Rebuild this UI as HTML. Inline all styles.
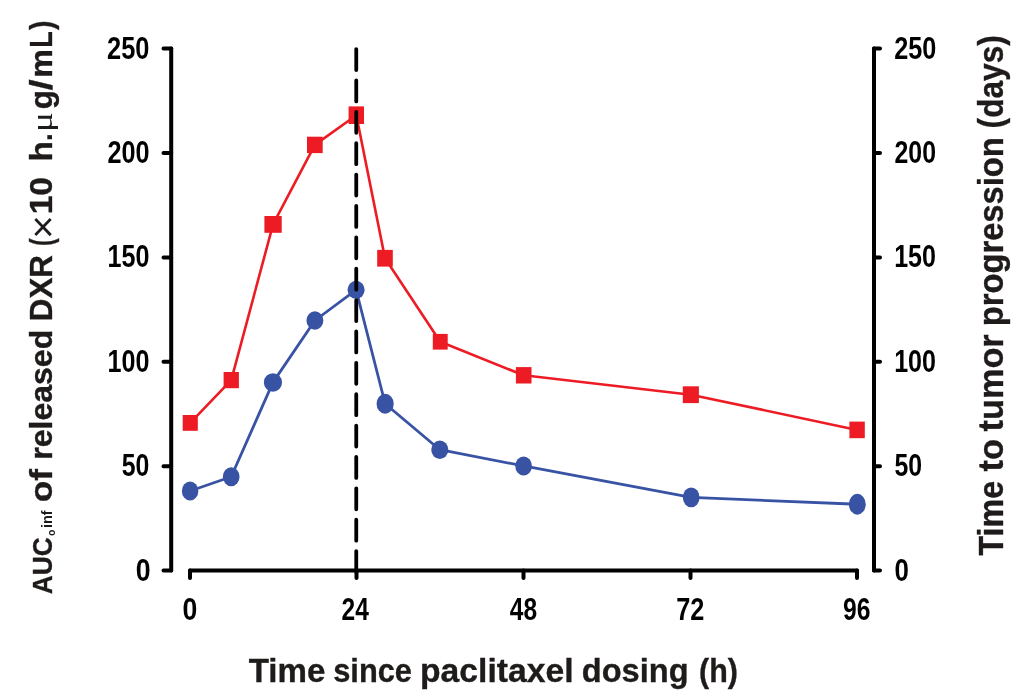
<!DOCTYPE html>
<html>
<head>
<meta charset="utf-8">
<style>
html,body{margin:0;padding:0;background:#fff;width:1024px;height:698px;overflow:hidden;}
svg{display:block;}
</style>
</head>
<body>
<svg width="1024" height="698" viewBox="0 0 1024 698">
<rect width="1024" height="698" fill="#fff"/>
<g stroke="#000" stroke-width="4" stroke-linecap="round" fill="none">
  <path d="M171.2,48.5 V570.6"/>
  <path d="M163.5,48.5 H171.2 M163.5,153 H171.2 M163.5,257.4 H171.2 M163.5,361.8 H171.2 M163.5,466.2 H171.2 M163.5,570.6 H171.2"/>
  <path d="M874,48.5 V570.6"/>
  <path d="M874,48.5 H880 M874,153 H880 M874,257.4 H880 M874,361.8 H880 M874,466.2 H880 M874,570.6 H880"/>
  <path d="M190,570.6 H857"/>
  <path d="M190,570.6 V578 M356.5,570.6 V578 M523.5,570.6 V578 M690.5,570.6 V578 M857,570.6 V578"/>
</g>
<polyline fill="none" stroke="#ED1C24" stroke-width="2.6" stroke-linejoin="round"
  points="190.25,422.90 231.25,380.10 273.05,224.40 314.85,144.90 356.30,115.20 385.00,258.25 440.25,341.75 523.70,375.30 690.85,394.70 857.10,429.90"/>
<g fill="#ED1C24">
  <rect x="182.70" y="415.00" width="15.10" height="15.80"/>
  <rect x="223.60" y="372.00" width="15.30" height="16.20"/>
  <rect x="264.40" y="216.00" width="17.30" height="16.80"/>
  <rect x="307.00" y="136.70" width="15.70" height="16.40"/>
  <rect x="348.60" y="106.40" width="15.40" height="17.60"/>
  <rect x="377.20" y="249.90" width="15.60" height="16.70"/>
  <rect x="432.80" y="333.90" width="14.90" height="15.70"/>
  <rect x="515.90" y="367.10" width="15.60" height="16.40"/>
  <rect x="682.80" y="386.30" width="16.10" height="16.80"/>
  <rect x="849.40" y="421.60" width="15.40" height="16.60"/>
</g>
<polyline fill="none" stroke="#3953A4" stroke-width="2.8" stroke-linejoin="round"
  points="190.10,490.95 231.20,476.70 272.95,382.40 314.90,320.50 356.10,289.80 385.15,403.75 439.80,449.70 523.60,465.95 691.20,497.40 857.30,504.25"/>
<g fill="#3953A4">
  <ellipse cx="190.10" cy="490.95" rx="8.25" ry="9.50"/>
  <ellipse cx="231.20" cy="476.70" rx="8.35" ry="9.45"/>
  <ellipse cx="272.95" cy="382.40" rx="9.10" ry="9.25"/>
  <ellipse cx="314.90" cy="320.50" rx="8.45" ry="9.25"/>
  <ellipse cx="356.10" cy="289.80" rx="8.55" ry="8.95"/>
  <ellipse cx="385.15" cy="403.75" rx="8.60" ry="10.00"/>
  <ellipse cx="439.80" cy="449.70" rx="8.55" ry="9.25"/>
  <ellipse cx="523.60" cy="465.95" rx="8.35" ry="9.50"/>
  <ellipse cx="691.20" cy="497.40" rx="8.35" ry="9.95"/>
  <ellipse cx="857.30" cy="504.25" rx="8.45" ry="10.40"/>
</g>
<path d="M356.25,49.1 V578" stroke="#000" stroke-width="3.8" stroke-linecap="round" stroke-dasharray="20.9 10.475" fill="none"/>

<g opacity="0.999">
<text transform="translate(107.07,58.50) scale(0.8260,1)" font-size="30.8" font-weight="bold" font-family="Liberation Sans" fill="#000" >250</text>
<text transform="translate(894.18,58.50) scale(0.8200,1)" font-size="30.8" font-weight="bold" font-family="Liberation Sans" fill="#000" >250</text>
<text transform="translate(107.38,163.00) scale(0.8200,1)" font-size="30.8" font-weight="bold" font-family="Liberation Sans" fill="#000" >200</text>
<text transform="translate(894.49,163.00) scale(0.8080,1)" font-size="30.8" font-weight="bold" font-family="Liberation Sans" fill="#000" >200</text>
<text transform="translate(107.47,267.40) scale(0.8163,1)" font-size="30.8" font-weight="bold" font-family="Liberation Sans" fill="#000" >150</text>
<text transform="translate(894.17,267.40) scale(0.8143,1)" font-size="30.8" font-weight="bold" font-family="Liberation Sans" fill="#000" >150</text>
<text transform="translate(107.47,371.80) scale(0.8163,1)" font-size="30.8" font-weight="bold" font-family="Liberation Sans" fill="#000" >100</text>
<text transform="translate(894.17,371.80) scale(0.8143,1)" font-size="30.8" font-weight="bold" font-family="Liberation Sans" fill="#000" >100</text>
<text transform="translate(121.69,476.20) scale(0.8061,1)" font-size="30.8" font-weight="bold" font-family="Liberation Sans" fill="#000" >50</text>
<text transform="translate(894.49,476.20) scale(0.8061,1)" font-size="30.8" font-weight="bold" font-family="Liberation Sans" fill="#000" >50</text>
<text transform="translate(135.63,580.60) scale(0.8667,1)" font-size="30.8" font-weight="bold" font-family="Liberation Sans" fill="#000" >0</text>
<text transform="translate(894.46,580.60) scale(0.8400,1)" font-size="30.8" font-weight="bold" font-family="Liberation Sans" fill="#000" >0</text>
<text transform="translate(182.46,620.00) scale(0.8375,1)" font-size="31.8" font-weight="bold" font-family="Liberation Sans" fill="#000" >0</text>
<text transform="translate(341.53,620.00) scale(0.7714,1)" font-size="31.8" font-weight="bold" font-family="Liberation Sans" fill="#000" >24</text>
<text transform="translate(509.80,620.00) scale(0.7714,1)" font-size="31.8" font-weight="bold" font-family="Liberation Sans" fill="#000" >48</text>
<text transform="translate(676.21,620.00) scale(0.7941,1)" font-size="31.8" font-weight="bold" font-family="Liberation Sans" fill="#000" >72</text>
<text transform="translate(842.92,620.00) scale(0.7765,1)" font-size="31.8" font-weight="bold" font-family="Liberation Sans" fill="#000" >96</text>
<text transform="translate(248.70,681.70) scale(0.9947,1)" font-size="33.3" font-weight="bold" font-family="Liberation Sans" fill="#1e1b1a" stroke="#1e1b1a" stroke-width="0.35">Time</text>
<text transform="translate(333.17,681.70) scale(0.9265,1)" font-size="33.3" font-weight="bold" font-family="Liberation Sans" fill="#1e1b1a" stroke="#1e1b1a" stroke-width="0.35">since</text>
<text transform="translate(419.98,681.70) scale(1.0122,1)" font-size="33.3" font-weight="bold" font-family="Liberation Sans" fill="#1e1b1a" stroke="#1e1b1a" stroke-width="0.35">paclitaxel</text>
<text transform="translate(581.82,681.70) scale(0.9783,1)" font-size="33.3" font-weight="bold" font-family="Liberation Sans" fill="#1e1b1a" stroke="#1e1b1a" stroke-width="0.35">dosing</text>
<text transform="translate(699.09,681.70) scale(0.9150,1)" font-size="33.3" font-weight="bold" font-family="Liberation Sans" fill="#1e1b1a" stroke="#1e1b1a" stroke-width="0.35">(h)</text>
<text transform="translate(52.40,594.26) rotate(-90) scale(0.9621,1)" font-size="27.4" font-weight="bold" font-family="Liberation Sans" fill="#1e1b1a" stroke="#1e1b1a" stroke-width="0.35">AUC</text>
<text transform="translate(52.40,502.20) rotate(-90) scale(1.1033,1)" font-size="32" font-weight="bold" font-family="Liberation Sans" fill="#1e1b1a" stroke="#1e1b1a" stroke-width="0.35">of</text>
<text transform="translate(52.40,459.70) rotate(-90) scale(1.0008,1)" font-size="32" font-weight="bold" font-family="Liberation Sans" fill="#1e1b1a" stroke="#1e1b1a" stroke-width="0.35">released</text>
<text transform="translate(52.40,321.26) rotate(-90) scale(0.9815,1)" font-size="32" font-weight="bold" font-family="Liberation Sans" fill="#1e1b1a" stroke="#1e1b1a" stroke-width="0.35">DXR</text>
<text transform="translate(52.40,246.01) rotate(-90) scale(0.7100,1)" font-size="32" font-weight="bold" font-family="Liberation Sans" fill="#1e1b1a" stroke="#1e1b1a" stroke-width="0.35">(</text>
<text transform="translate(52.40,214.30) rotate(-90) scale(1.0485,1)" font-size="32" font-weight="bold" font-family="Liberation Sans" fill="#1e1b1a" stroke="#1e1b1a" stroke-width="0.35">10</text>
<text transform="translate(52.40,161.38) rotate(-90) scale(1.0375,1)" font-size="32" font-weight="bold" font-family="Liberation Sans" fill="#1e1b1a" stroke="#1e1b1a" stroke-width="0.35">h</text>
<text transform="translate(52.40,109.28) rotate(-90) scale(0.9765,1)" font-size="32" font-weight="bold" font-family="Liberation Sans" fill="#1e1b1a" stroke="#1e1b1a" stroke-width="0.35">g</text>
<text transform="translate(52.40,90.50) rotate(-90) scale(1.2556,1)" font-size="32" font-weight="bold" font-family="Liberation Sans" fill="#1e1b1a" stroke="#1e1b1a" stroke-width="0.35">/</text>
<text transform="translate(52.40,77.72) rotate(-90) scale(1.0080,1)" font-size="32" font-weight="bold" font-family="Liberation Sans" fill="#1e1b1a" stroke="#1e1b1a" stroke-width="0.35">m</text>
<text transform="translate(52.40,47.69) rotate(-90) scale(0.8471,1)" font-size="32" font-weight="bold" font-family="Liberation Sans" fill="#1e1b1a" stroke="#1e1b1a" stroke-width="0.35">L</text>
<text transform="translate(52.40,29.90) rotate(-90) scale(0.8889,1)" font-size="32" font-weight="bold" font-family="Liberation Sans" fill="#1e1b1a" stroke="#1e1b1a" stroke-width="0.35">)</text>
<text transform="translate(55.40,536.10) rotate(-90) scale(0.9000,1)" font-size="11.5" font-weight="bold" font-family="Liberation Sans" fill="#1e1b1a" >o</text>
<text transform="translate(52.40,528.03) rotate(-90) scale(1.0294,1)" font-size="14" font-weight="bold" font-family="Liberation Sans" fill="#1e1b1a" >inf</text>
<text transform="translate(56.20,238.99) rotate(-90) scale(1.0647,1)" font-size="38.5" font-weight="normal" font-family="Liberation Sans" fill="#1e1b1a" >×</text>
<text transform="translate(52.40,141.14) rotate(-90) scale(0.9200,1)" font-size="32" font-weight="bold" font-family="Liberation Sans" fill="#1e1b1a" >.</text>
<text transform="translate(52.40,131.96) rotate(-90) scale(1.2308,1)" font-size="30" font-weight="normal" font-family="Liberation Serif" fill="#1e1b1a" >μ</text>
<text transform="translate(1002.80,555.60) rotate(-90) scale(0.9086,1)" font-size="35.5" font-weight="bold" font-family="Liberation Sans" fill="#1e1b1a" stroke="#1e1b1a" stroke-width="0.35">Time</text>
<text transform="translate(1002.80,471.50) rotate(-90) scale(0.9688,1)" font-size="35.5" font-weight="bold" font-family="Liberation Sans" fill="#1e1b1a" stroke="#1e1b1a" stroke-width="0.35">to</text>
<text transform="translate(1002.80,431.50) rotate(-90) scale(0.9670,1)" font-size="35.5" font-weight="bold" font-family="Liberation Sans" fill="#1e1b1a" stroke="#1e1b1a" stroke-width="0.35">tumor</text>
<text transform="translate(1002.80,326.34) rotate(-90) scale(0.9224,1)" font-size="35.5" font-weight="bold" font-family="Liberation Sans" fill="#1e1b1a" stroke="#1e1b1a" stroke-width="0.35">progression</text>
<text transform="translate(1002.80,128.39) rotate(-90) scale(0.8912,1)" font-size="35.5" font-weight="bold" font-family="Liberation Sans" fill="#1e1b1a" stroke="#1e1b1a" stroke-width="0.35">(days)</text>
</g>

</svg>
</body>
</html>
